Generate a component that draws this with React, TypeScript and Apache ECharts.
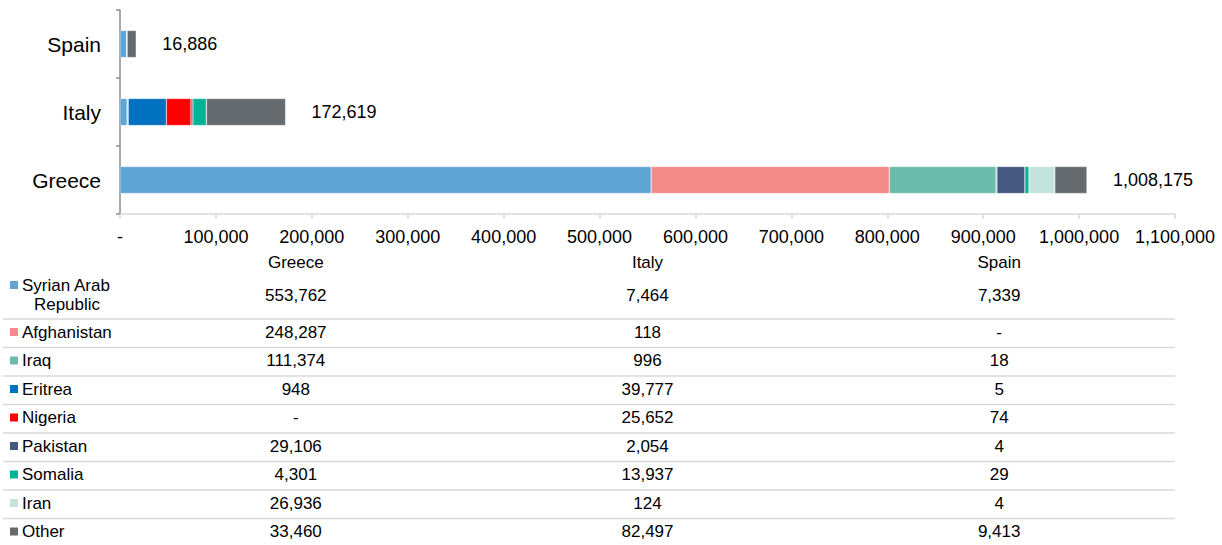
import React, { useEffect, useRef } from "react";
import * as echarts from "echarts";

const categories = ["Greece", "Italy", "Spain"];
const origins = [
  "Syrian Arab Republic",
  "Afghanistan",
  "Iraq",
  "Eritrea",
  "Nigeria",
  "Pakistan",
  "Somalia",
  "Iran",
  "Other",
];
const syrian = [553762, 7464, 7339];
const afghanistan = [248287, 118, 0];
const iraq = [111374, 996, 18];
const eritrea = [948, 39777, 5];
const nigeria = [0, 25652, 74];
const pakistan = [29106, 2054, 4];
const somalia = [4301, 13937, 29];
const iran = [26936, 124, 4];
const other = [33460, 82497, 9413];
const seriesValues = [syrian, afghanistan, iraq, eritrea, nigeria, pakistan, somalia, iran, other];
const totals = [1008175, 172619, 16886];
const xTicks = { min: 0, max: 1100000, interval: 100000 };

const colors = [
  "#5ea5d6",
  "#f48b8a",
  "#6abdab",
  "#0070c0",
  "#ff0000",
  "#44597f",
  "#00b395",
  "#c4e3dc",
  "#646a6d",
];

const FONT = '"Liberation Sans", Arial, sans-serif';
const fmt = (v: number) => (v === 0 ? "-" : v.toLocaleString("en-US"));

export default function App() {
  const ref = useRef<HTMLDivElement>(null);
  useEffect(() => {
    if (!ref.current) return;
    const chart = echarts.init(ref.current, null, { renderer: "svg" });

    const gridLeft = 120;
    const gridRight = 1175;
    const colW = (gridRight - gridLeft) / categories.length;
    const graphics: any[] = [];
    const txt = (text: string, x: number, y: number, align: string) => ({
      type: "text",
      x,
      y,
      silent: true,
      style: {
        text,
        fill: "#000",
        fontSize: 17,
        fontFamily: FONT,
        align,
        textAlign: align,
        verticalAlign: "middle",
        textVerticalAlign: "middle",
      },
    });
    categories.forEach((c, i) => {
      graphics.push(txt(c, gridLeft + (i + 0.5) * colW, 262, "center"));
    });
    const rowCenter = (k: number) => (k === 0 ? 295 : 332 + (k - 1) * 28.5);
    origins.forEach((o, k) => {
      const cy = rowCenter(k);
      if (k === 0) {
        graphics.push({
          type: "rect",
          silent: true,
          shape: { x: 10, y: 281, width: 8, height: 8 },
          style: { fill: colors[k] },
        });
        graphics.push(txt("Syrian Arab", 22, 285, "left"));
        graphics.push(txt("Republic", 67, 304, "center"));
      } else {
        graphics.push({
          type: "rect",
          silent: true,
          shape: { x: 10, y: cy - 4, width: 8, height: 8 },
          style: { fill: colors[k] },
        });
        graphics.push(txt(o, 22, cy, "left"));
      }
      categories.forEach((_, i) => {
        graphics.push(txt(fmt(seriesValues[k][i]), gridLeft + (i + 0.5) * colW, cy, "center"));
      });
      if (k < origins.length - 1) {
        const ly = 319 + k * 28.5;
        graphics.push({
          type: "line",
          silent: true,
          shape: { x1: 3, y1: ly, x2: gridRight, y2: ly },
          style: { stroke: "#d9d9d9", lineWidth: 1.5 },
        });
      }
    });

    const series: any[] = origins.map((name, k) => ({
      name,
      type: "bar",
      stack: "total",
      barWidth: 27,
      data: seriesValues[k],
      itemStyle: { color: colors[k], borderColor: "rgba(255,255,255,0.6)", borderWidth: 0.5 },
      label:
        k === origins.length - 1
          ? {
              show: true,
              position: "right",
              distance: 26,
              color: "#000",
              fontSize: 18,
              fontFamily: FONT,
              formatter: (p: any) => fmt(totals[p.dataIndex]),
            }
          : { show: false },
    }));

    chart.setOption({
      animation: false,
      textStyle: { fontFamily: FONT },
      grid: { left: gridLeft, right: 1222 - gridRight, top: 10, bottom: 545 - 214, containLabel: false },
      xAxis: {
        type: "value",
        min: xTicks.min,
        max: xTicks.max,
        interval: xTicks.interval,
        splitLine: { show: false },
        axisLine: { show: true, lineStyle: { color: "#d9d9d9", width: 1.5 } },
        axisTick: { show: true, length: 5, lineStyle: { color: "#d9d9d9", width: 1.5 } },
        axisLabel: {
          color: "#000",
          fontSize: 18,
          fontFamily: FONT,
          margin: 14,
          formatter: (v: number) => fmt(v),
        },
      },
      yAxis: {
        type: "category",
        data: categories,
        axisLine: { show: true, lineStyle: { color: "#8c8c8c", width: 1.5 } },
        axisTick: { show: true, length: 4, lineStyle: { color: "#8c8c8c", width: 1.5 } },
        axisLabel: { color: "#000", fontSize: 21, fontFamily: FONT, margin: 19 },
      },
      series,
      graphic: graphics,
    });
    return () => chart.dispose();
  }, []);
  return (
    <div
      ref={ref}
      style={{ position: "fixed", left: 0, top: 0, width: 1222, height: 545, background: "#fff" }}
    />
  );
}
